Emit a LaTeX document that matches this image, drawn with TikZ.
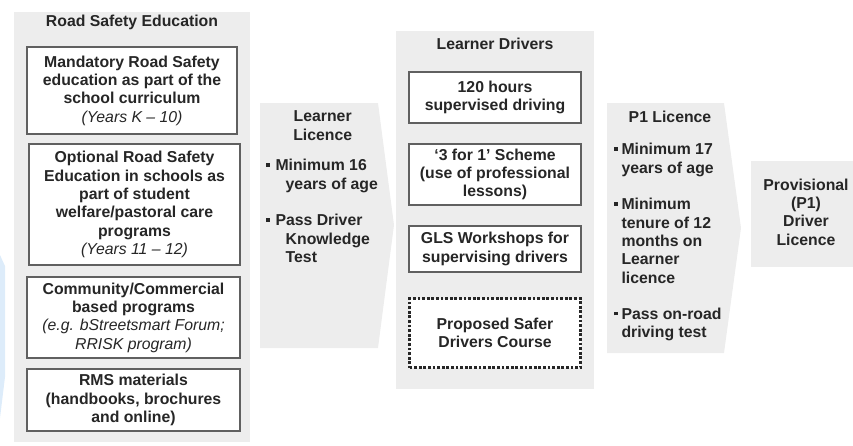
\documentclass[tikz,border=0pt]{standalone}
\usepackage{fontspec}
\setmainfont{Liberation Sans}
\usepackage{tikz}
\usetikzlibrary{positioning}
\definecolor{PanelGray}{RGB}{237,237,237}
\definecolor{BoxLine}{RGB}{96,96,96}
\definecolor{TextGray}{RGB}{38,38,38}
\definecolor{MarkBlue}{RGB}{221,236,250}
\newcommand{\boxfont}{\fontsize{15.8}{18.3}\selectfont\bfseries}
\newcommand{\sqbullet}{\rule[4.2pt]{3.8pt}{3.8pt}}
\newcommand{\yrs}[1]{{\mdseries\itshape #1}}
\tikzstyle{panel} = [fill=PanelGray, anchor=north west, inner sep=0pt, outer sep=0pt]
\tikzstyle{textbox} = [draw=BoxLine, line width=1.1pt, fill=white, anchor=north west, inner sep=0pt, outer sep=0pt, align=center, text=TextGray, font=\boxfont]
\tikzstyle{dotbox} = [textbox, draw=TextGray, line width=2.8pt, dash pattern=on 2.8pt off 1.8pt]
\tikzstyle{heading} = [align=center, text=TextGray, font=\boxfont]
\tikzstyle{bullets} = [align=left, text=TextGray, font=\boxfont, anchor=north west, inner sep=0pt]

\begin{document}
\begin{tikzpicture}[x=1pt, y=-1pt]
\useasboundingbox (0,0) rectangle (853,445);
% faint mark at the left edge
\fill[MarkBlue] (0,255) -- (5,266) -- (5,377) -- (0,418) -- cycle;

% road safety education
\node[panel, minimum width=236pt, minimum height=430pt] (educationpanel) at (14,12) {};
\node[heading] (educationtitle) at (132,22) {Road Safety Education};
\node[textbox, minimum width=210pt, minimum height=87pt] (mandatory) at (27,47)
  {Mandatory Road Safety\\education as part of the\\school curriculum\\\yrs{(Years K -- 10)}};
\node[textbox, minimum width=211pt, minimum height=121pt] (optional) at (29,144)
  {Optional Road Safety\\Education in schools as\\part of student\\welfare/pastoral care\\programs\\\yrs{(Years 11 -- 12)}};
\node[textbox, minimum width=213pt, minimum height=81pt] (community) at (27,277)
  {Community/Commercial\\based programs\\\yrs{(e.g. bStreetsmart Forum;}\\\yrs{RRISK program)}};
\node[textbox, minimum width=213pt, minimum height=62pt] (materials) at (27,369)
  {RMS materials\\(handbooks, brochures\\and online)};

% learner licence
\fill[PanelGray] (260,103) coordinate (learnertop) -- (378,103) -- (394,225) coordinate (learnertip) -- (378,348) -- (260,348) -- cycle;
\node[heading] (learnertitle) at (322.7,125.5) {Learner\\Licence};
\node[bullets] (learnerlist) at (266,159.3)
  {\sqbullet\hspace{5.5pt}Minimum 16\\\hspace*{19.5pt}years of age\\[18.3pt]\sqbullet\hspace{5.5pt}Pass Driver\\\hspace*{19.5pt}Knowledge\\\hspace*{19.5pt}Test};

% learner drivers
\node[panel, minimum width=198pt, minimum height=358pt] (driverspanel) at (396,31) {};
\node[heading] (driverstitle) at (495,44) {Learner Drivers};
\node[textbox, minimum width=172pt, minimum height=51pt] (hours) at (409,72)
  {120 hours\\supervised driving};
\node[textbox, minimum width=172pt, minimum height=61pt] (scheme) at (409,144)
  {`3 for 1' Scheme\\(use of professional\\lessons)};
\node[textbox, minimum width=172pt, minimum height=46pt] (workshops) at (409,226)
  {GLS Workshops for\\supervising drivers};
\node[dotbox, minimum width=171pt, minimum height=69pt] (course) at (409.5,298.5)
  {Proposed Safer\\Drivers Course};

% p1 licence
\fill[PanelGray] (607,103) coordinate (ptop) -- (724,103) -- (741,228) coordinate (ptip) -- (724,353) -- (607,353) -- cycle;
\node[heading] (ptitle) at (670,117) {P1 Licence};
\node[bullets] (plist) at (614,143.3)
  {\sqbullet\hspace{3.5pt}Minimum 17\\\hspace*{7.3pt}years of age\\[18.3pt]\sqbullet\hspace{3.5pt}Minimum\\\hspace*{7.3pt}tenure of 12\\\hspace*{7.3pt}months on\\\hspace*{7.3pt}Learner\\\hspace*{7.3pt}licence\\[18.3pt]\sqbullet\hspace{3.5pt}Pass on-road\\\hspace*{7.3pt}driving test};

% provisional licence
\node[panel, minimum width=102pt, minimum height=106pt] (provisionalpanel) at (751,161) {};
\node[heading] (provisional) at (806,212) {Provisional\\(P1)\\Driver\\Licence};
\end{tikzpicture}
\end{document}
